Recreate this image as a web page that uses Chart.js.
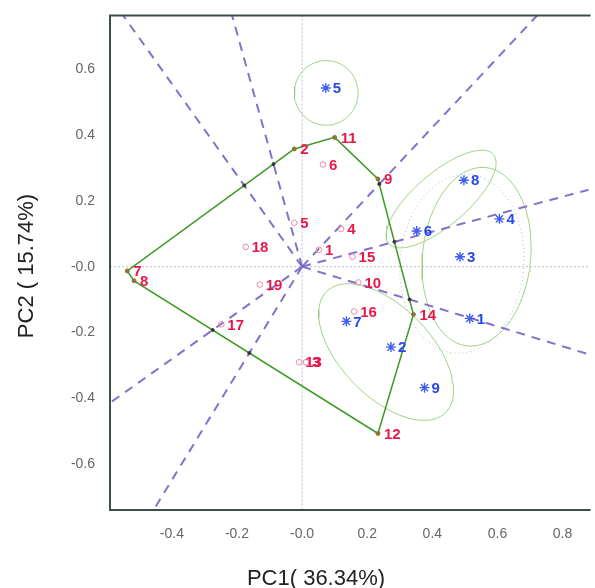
<!DOCTYPE html>
<html>
<head>
<meta charset="utf-8">
<script src="https://cdn.jsdelivr.net/npm/chart.js@4.4.1/dist/chart.umd.min.js"></script>
<style>
html,body{margin:0;padding:0;background:#fff}
#wrap{width:595px;height:588px}
</style>
</head>
<body>
<div id="wrap"><canvas id="c" width="595" height="588"></canvas></div>
<script>
// genotypes 1..19 (PC1, PC2)
const genoX = [0.052, -0.024, 0.012, 0.12, -0.024, 0.064, -0.537, -0.516, 0.233, 0.173,
               0.10, 0.233, -0.009, 0.342, 0.155, 0.16, -0.248, -0.173, -0.13];
const genoY = [0.051, 0.357, -0.29, 0.115, 0.133, 0.31, -0.013, -0.043, 0.266, -0.048,
               0.392, -0.506, -0.29, -0.145, 0.03, -0.136, -0.175, 0.06, -0.054];
// environments 1..9
const envX = [0.515, 0.273, 0.485, 0.606, 0.073, 0.352, 0.136, 0.497, 0.376];
const envY = [-0.157, -0.244, 0.03, 0.145, 0.542, 0.108, -0.166, 0.262, -0.367];
// polygon vertices (genotype numbers, in drawing order)
const hullOrder = [2, 11, 9, 14, 12, 8, 7];
// group ellipses: centre, semi axes, angle (deg)
const ellCX = [0.074, 0.427, 0.536, 0.258, 0.491];
const ellCY = [0.527, 0.205, 0.03, -0.259, 0.009];
const ellA = [0.098, 0.21, 0.272, 0.259, 0.272];
const ellB = [0.098, 0.08, 0.166, 0.137, 0.19];
const ellAng = [0, 40, 84, -45, 85];
const ellDotted = [false, false, false, false, true];

const fmtTick = v => Math.abs(v) < 1e-9 ? '-0.0' : v.toFixed(1);

const hullPts = hullOrder.map(g => ({x: genoX[g-1], y: genoY[g-1]}));

// perpendicular lines from the origin to each side of the polygon
const rays = hullPts.map((p, i) => {
  const q = hullPts[(i+1) % hullPts.length];
  const dx = q.x - p.x, dy = q.y - p.y;
  const t = -(p.x*dx + p.y*dy) / (dx*dx + dy*dy);
  const fx = p.x + t*dx, fy = p.y + t*dy;
  const len = Math.hypot(fx, fy);
  return [{x: 0, y: 0}, {x: fx/len*3, y: fy/len*3}];
});

// where each line crosses the polygon
const crossPts = [];
rays.forEach(r => {
  const ux = r[1].x, uy = r[1].y;
  hullPts.forEach((p, i) => {
    const q = hullPts[(i+1) % hullPts.length];
    const dx = q.x - p.x, dy = q.y - p.y;
    const den = ux*dy - uy*dx;
    if (Math.abs(den) < 1e-12) return;
    const s = (p.x*dy - p.y*dx) / den;
    const t = (p.x*uy - p.y*ux) / den;
    if (s > 0 && t >= 0 && t <= 1) crossPts.push({x: s*ux, y: s*uy});
  });
});

function ellipsePts(i){
  const pts = [], a = ellAng[i]*Math.PI/180, c = Math.cos(a), s = Math.sin(a);
  for (let k = 0; k <= 90; k++){
    const t = k/90*2*Math.PI;
    const ex = ellA[i]*Math.cos(t), ey = ellB[i]*Math.sin(t);
    pts.push({x: ellCX[i] + ex*c - ey*s, y: ellCY[i] + ex*s + ey*c});
  }
  return pts;
}

const datasets = [];
ellCX.forEach((_, i) => datasets.push({
  data: ellipsePts(i), showLine: true, pointRadius: 0, borderWidth: 1,
  borderColor: ellDotted[i] ? 'rgba(170,185,180,0.9)' : 'rgba(150,205,120,0.9)',
  borderDash: ellDotted[i] ? [1, 3] : [], order: 10
}));
rays.forEach(r => datasets.push({
  data: r, showLine: true, pointRadius: 0, borderWidth: 2,
  borderColor: 'rgba(125,105,200,0.95)', borderDash: [9, 7], order: 8
}));
datasets.push({
  data: hullPts.concat([hullPts[0]]), showLine: true, pointRadius: 0,
  borderWidth: 1.5, borderColor: '#3d9a26', order: 6
});
datasets.push({
  data: crossPts, pointRadius: 1.5, backgroundColor: '#333', borderColor: '#333', order: 5
});
const isVertex = i => hullOrder.includes(i+1);
datasets.push({
  data: genoX.map((x, i) => ({x, y: genoY[i]})),
  pointRadius: ctx => isVertex(ctx.dataIndex) ? 2 : 2.8,
  pointBorderWidth: 1,
  pointBorderColor: ctx => isVertex(ctx.dataIndex) ? '#8c7432' : '#e88aa6',
  pointBackgroundColor: ctx => isVertex(ctx.dataIndex) ? '#8c7432' : 'rgba(0,0,0,0)',
  order: 3
});
datasets.push({
  data: envX.map((x, i) => ({x, y: envY[i]})),
  pointStyle: 'star', pointRadius: 5, pointBorderWidth: 1.4,
  pointBorderColor: '#3f5ff0', order: 2
});

const GENO = datasets.length - 2, ENV = datasets.length - 1;

const extras = {
  id: 'extras',
  beforeDatasetsDraw(chart){
    const {ctx, chartArea: a, scales: {x, y}} = chart;
    const x0 = x.getPixelForValue(0), y0 = y.getPixelForValue(0);
    ctx.save();
    ctx.strokeStyle = '#b4c4cc'; ctx.lineWidth = 1; ctx.setLineDash([2, 2]);
    ctx.beginPath();
    ctx.moveTo(x0, a.top); ctx.lineTo(x0, a.bottom);
    ctx.moveTo(a.left, y0); ctx.lineTo(a.right, y0);
    ctx.stroke();
    ctx.restore();
  },
  afterDatasetsDraw(chart){
    const {ctx, chartArea: a} = chart;
    ctx.save();
    ctx.textBaseline = 'middle'; ctx.textAlign = 'left';
    ctx.font = 'bold 15px "Liberation Sans", Arial, sans-serif';
    ctx.fillStyle = '#e6194b';
    chart.getDatasetMeta(GENO).data.forEach((pt, i) => ctx.fillText(String(i+1), pt.x + 6, pt.y + 1));
    ctx.font = 'bold 15px "Liberation Sans", Arial, sans-serif';
    ctx.fillStyle = '#2846ee';
    chart.getDatasetMeta(ENV).data.forEach((pt, i) => ctx.fillText(String(i+1), pt.x + 7, pt.y + 1));
    // frame: left, top, bottom
    ctx.strokeStyle = '#3e4f4b'; ctx.lineWidth = 2;
    ctx.beginPath();
    ctx.moveTo(a.right + 2, a.top); ctx.lineTo(a.left, a.top);
    ctx.lineTo(a.left, a.bottom); ctx.lineTo(a.right + 2, a.bottom);
    ctx.stroke();
    // axis titles
    ctx.fillStyle = '#222'; ctx.font = '22px "Liberation Sans", Arial, sans-serif';
    ctx.textAlign = 'center';
    ctx.fillText('PC1( 36.34%)', 316, 579);
    ctx.translate(27, 266); ctx.rotate(-Math.PI/2);
    ctx.fillText('PC2 ( 15.74%)', 0, 0);
    ctx.restore();
  }
};

const tickFont = {family: '"Liberation Sans", Arial, sans-serif', size: 14};

new Chart(document.getElementById('c'), {
  type: 'scatter',
  data: {datasets},
  options: {
    responsive: false, animation: false, devicePixelRatio: 1,
    layout: {padding: {top: 12, right: 0, left: 0, bottom: 0}},
    plugins: {legend: {display: false}, tooltip: {enabled: false}},
    scales: {
      x: {
        type: 'linear', min: -0.59, max: 0.88,
        grid: {display: false}, border: {display: false},
        ticks: {stepSize: 0.2, includeBounds: false, callback: fmtTick, color: '#666', font: tickFont, padding: 8, maxRotation: 0},
        afterFit: s => { s.height = 78; }
      },
      y: {
        type: 'linear', min: -0.738, max: 0.762,
        grid: {display: false}, border: {display: false},
        ticks: {stepSize: 0.2, includeBounds: false, callback: fmtTick, color: '#666', font: tickFont, padding: 7},
        afterFit: s => { s.width = 110; }
      }
    }
  },
  plugins: [extras]
});
</script>
</body>
</html>
